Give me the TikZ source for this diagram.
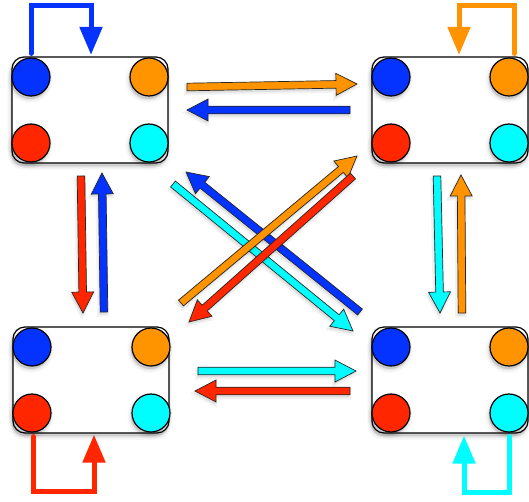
\documentclass[tikz,border=0pt]{standalone}
\usetikzlibrary{calc,arrows.meta}
\definecolor{cblue}{RGB}{4,51,255}
\definecolor{corange}{RGB}{255,147,0}
\definecolor{cred}{RGB}{255,38,0}
\definecolor{ccyan}{RGB}{0,253,255}
\tikzset{
  softshadow/.style={
    preaction={draw=black, draw opacity=0.04, line width=7pt, fill=black, fill opacity=0.05,
      transform canvas={shift={(-1pt,-3pt)}}},
    preaction={draw=black, draw opacity=0.06, line width=3pt, fill=black, fill opacity=0.08,
      transform canvas={shift={(-1pt,-3pt)}}}},
  smallshadow/.style={
    preaction={draw=black, draw opacity=0.05, line width=4pt, fill=black, fill opacity=0.08,
      transform canvas={shift={(-1pt,-2.5pt)}}}},
  box/.style={draw=black, line width=1.2pt, fill=white, rounded corners=12pt,
    minimum width=156pt, minimum height=106pt, inner sep=0pt, softshadow},
  dot/.style={circle, draw=black, line width=1.2pt, minimum size=38pt, inner sep=0pt, softshadow},
  loopline/.style={line width=5pt, line cap=round, line join=miter,
    -{Triangle[width=22pt,length=28pt]}},
  barrow/.style={draw=black!85, line width=0.7pt, line join=miter, smallshadow}
}
\newcommand{\blockarrow}[3]{%
  \coordinate (bh) at ($(#3)!21pt!(#2)$);
  \draw[barrow, fill=#1]
    ($(#2)!3.8pt!90:(#3)$) -- ($(bh)!3.8pt!90:(#3)$) -- ($(bh)!11pt!90:(#3)$)
    -- (#3) -- ($(bh)!11pt!-90:(#3)$) -- ($(bh)!3.8pt!-90:(#3)$)
    -- ($(#2)!3.8pt!-90:(#3)$) -- cycle;
}
\begin{document}
\begin{tikzpicture}[x=1pt,y=-1pt]
\useasboundingbox (0,0) rectangle (529,501);

% boxes
\node[box] (TL) at (90,110) {};
\node[box] (TR) at (450,110) {};
\node[box] (BL) at (91,380) {};
\node[box] (BR) at (450,380) {};

% dots
\node[dot, fill=cblue]   (TLb) at (31,77) {};
\node[dot, fill=corange] (TLo) at (149,77) {};
\node[dot, fill=cred]    (TLr) at (31,143) {};
\node[dot, fill=ccyan]   (TLc) at (149,143) {};

\node[dot, fill=cblue]   (TRb) at (391,77) {};
\node[dot, fill=corange] (TRo) at (509,77) {};
\node[dot, fill=cred]    (TRr) at (391,143) {};
\node[dot, fill=ccyan]   (TRc) at (509,143) {};

\node[dot, fill=cblue]   (BLb) at (32,347) {};
\node[dot, fill=corange] (BLo) at (151,347) {};
\node[dot, fill=cred]    (BLr) at (32,413) {};
\node[dot, fill=ccyan]   (BLc) at (151,413) {};

\node[dot, fill=cblue]   (BRb) at (391,347) {};
\node[dot, fill=corange] (BRo) at (509,347) {};
\node[dot, fill=cred]    (BRr) at (391,413) {};
\node[dot, fill=ccyan]   (BRc) at (509,413) {};

% self loops
\draw[loopline, cblue] ([yshift=4pt]TLb.north) -- ++(0,-48) -| ([xshift=1pt,yshift=1.5pt]TL.north);
\draw[loopline, corange] ([xshift=5pt,yshift=4pt]TRo.north) -- ++(0,-48) -| ([xshift=9pt,yshift=1.5pt]TR.north);
\draw[loopline, cred] ([xshift=1pt,yshift=-4pt]BLr.south) -- ++(0,55) -| ([xshift=3pt,yshift=-1pt]BL.south);
\draw[loopline, ccyan] ([yshift=-4pt]BRc.south) -- ++(0,56) -| ([xshift=14pt,yshift=-2pt]BR.south);

% arrow end points
\coordinate (t1s) at (187,87);  \coordinate (t1e) at (357,84);
\coordinate (t2s) at (350,110); \coordinate (t2e) at (187,110);
\coordinate (b1s) at (198,371); \coordinate (b1e) at (356,371);
\coordinate (b2s) at (350,391); \coordinate (b2e) at (195,391);
\coordinate (l1s) at (81,176);  \coordinate (l1e) at (83,313);
\coordinate (l2s) at (104,312); \coordinate (l2e) at (102,173);
\coordinate (r1s) at (437,176); \coordinate (r1e) at (440,313);
\coordinate (r2s) at (462,313); \coordinate (r2e) at (461,175);
\coordinate (d1s) at (173,184); \coordinate (d1e) at (353,331);
\coordinate (d2s) at (360,312); \coordinate (d2e) at (186,172);
\coordinate (d3s) at (181,303); \coordinate (d3e) at (357,156);
\coordinate (d4s) at (353,176); \coordinate (d4e) at (189,322);

% horizontal arrows
\blockarrow{corange}{t1s}{t1e}
\blockarrow{cblue}{t2s}{t2e}
\blockarrow{ccyan}{b1s}{b1e}
\blockarrow{cred}{b2s}{b2e}
% vertical arrows
\blockarrow{cred}{l1s}{l1e}
\blockarrow{cblue}{l2s}{l2e}
\blockarrow{ccyan}{r1s}{r1e}
\blockarrow{corange}{r2s}{r2e}
% diagonal arrows
\blockarrow{ccyan}{d1s}{d1e}
\blockarrow{cblue}{d2s}{d2e}
\blockarrow{corange}{d3s}{d3e}
\blockarrow{cred}{d4s}{d4e}
\end{tikzpicture}
\end{document}
